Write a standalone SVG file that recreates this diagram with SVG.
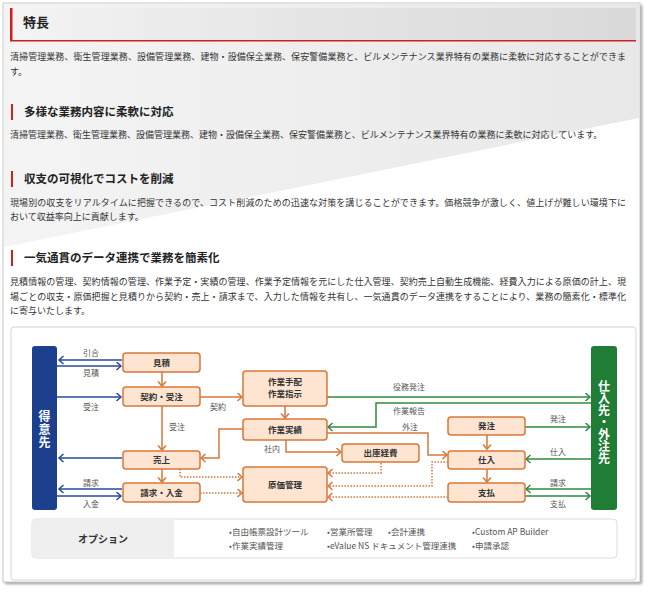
<svg xmlns="http://www.w3.org/2000/svg" width="650" height="592" viewBox="0 0 650 592">
<defs>
<linearGradient id="bgg" x1="0" y1="0" x2="1" y2="0">
<stop offset="0" stop-color="#f4f4f4"/><stop offset="1" stop-color="#e8e8e8"/>
</linearGradient>
<linearGradient id="hdg" x1="0" y1="0" x2="1" y2="0">
<stop offset="0" stop-color="#dcdcdc" stop-opacity="0"/><stop offset="1" stop-color="#dadada"/>
</linearGradient>
<filter id="sh" x="-5%" y="-5%" width="110%" height="110%"><feGaussianBlur stdDeviation="1.5"/></filter>
<marker id="mb" markerWidth="8" markerHeight="10" refX="5" refY="4.5" orient="auto" markerUnits="userSpaceOnUse"><path d="M0.5,0.5 L5,4.5 L0.5,8.5" fill="none" stroke="#274a9c" stroke-width="1.5"/></marker>
<marker id="mg" markerWidth="8" markerHeight="10" refX="5" refY="4.5" orient="auto" markerUnits="userSpaceOnUse"><path d="M0.5,0.5 L5,4.5 L0.5,8.5" fill="none" stroke="#2e8a3f" stroke-width="1.5"/></marker>
<marker id="mo" markerWidth="8" markerHeight="10" refX="5" refY="4.5" orient="auto" markerUnits="userSpaceOnUse"><path d="M0.5,0.5 L5,4.5 L0.5,8.5" fill="none" stroke="#d7773a" stroke-width="1.5"/></marker>
</defs>
<style>
text{font-family:"Noto Sans CJK JP","Noto Sans",sans-serif}
.h{font-size:11.5px;font-weight:bold;fill:#222}
.p{font-size:9px;fill:#333}
.bar{fill:#d21e1e}
.node rect{fill:#fde5d2;stroke:#d7773a;stroke-width:1.5}
.node text{font-size:8.5px;font-weight:bold;fill:#333;text-anchor:middle}
.lbl{font-size:8px;fill:#555;text-anchor:middle}
.vt{font-size:12px;font-weight:bold;fill:#fff;writing-mode:vertical-rl}
.cb{fill:none;stroke:#274a9c;stroke-width:1.5;marker-end:url(#mb)}
.cg{fill:none;stroke:#2e8a3f;stroke-width:1.5;marker-end:url(#mg)}
.co{fill:none;stroke:#d7773a;stroke-width:1.5;marker-end:url(#mo)}
.cd{fill:none;stroke:#d7773a;stroke-width:1.5;stroke-dasharray:1.5 1.5;marker-end:url(#mo)}
.opt{font-size:8.5px;fill:#555}
</style>
<rect width="650" height="592" fill="#ffffff"/>
<rect x="5" y="5" width="637" height="579" fill="#9a9a9a" filter="url(#sh)"/>
<rect x="3" y="3" width="637" height="579" fill="#ffffff" stroke="#c8c8c8" stroke-width="1"/>
<polygon points="4,4 639,4 639,118 4,247" fill="url(#bgg)"/>
<rect x="10" y="8" width="626" height="33" fill="url(#hdg)"/>

<g id="headings">
<rect class="bar" x="10" y="8" width="2.5" height="33"/>
<rect class="bar" x="10" y="40" width="626" height="1.5"/>
<text class="h" x="23" y="27" style="font-size:13px">特長</text>
<text class="p" x="10" y="60" textLength="616" lengthAdjust="spacing">清掃管理業務、衛生管理業務、設備管理業務、建物・設備保全業務、保安警備業務と、ビルメンテナンス業界特有の業務に柔軟に対応することができま</text>
<text class="p" x="10" y="75">す。</text>

<rect class="bar" x="11" y="104" width="2" height="16"/>
<text class="h" x="24" y="116">多様な業務内容に柔軟に対応</text>
<text class="p" x="10" y="138">清掃管理業務、衛生管理業務、設備管理業務、建物・設備保全業務、保安警備業務と、ビルメンテナンス業界特有の業務に柔軟に対応しています。</text>

<rect class="bar" x="11" y="171" width="2" height="16"/>
<text class="h" x="24" y="183">収支の可視化でコストを削減</text>
<text class="p" x="10" y="206" textLength="616" lengthAdjust="spacing">現場別の収支をリアルタイムに把握できるので、コスト削減のための迅速な対策を講じることができます。価格競争が激しく、値上げが難しい環境下に</text>
<text class="p" x="10" y="220">おいて収益率向上に貢献します。</text>

<rect class="bar" x="11" y="250" width="2" height="16"/>
<text class="h" x="24" y="262">一気通貫のデータ連携で業務を簡素化</text>
<text class="p" x="10" y="285" textLength="616" lengthAdjust="spacing">見積情報の管理、契約情報の管理、作業予定・実績の管理、作業予定情報を元にした仕入管理、契約売上自動生成機能、経費入力による原価の計上、現</text>
<text class="p" x="10" y="300" textLength="616" lengthAdjust="spacing">場ごとの収支・原価把握と見積りから契約・売上・請求まで、入力した情報を共有し、一気通貫のデータ連携をすることにより、業務の簡素化・標準化</text>
<text class="p" x="10" y="314">に寄与いたします。</text>
</g>

<rect x="11" y="327" width="625" height="253" rx="3" fill="#ffffff" stroke="#d4d4d4" stroke-width="1"/>

<g id="tokuisaki">
<rect x="32" y="346" width="25" height="164" rx="3" fill="#1c3f8e"/>
<text class="vt" x="44.5" y="410" style="letter-spacing:1px">得意先</text>
</g>
<g id="shiiresaki">
<rect x="591" y="346" width="26" height="164" rx="3" fill="#1f7d35"/>
<text class="vt" x="604" y="380">仕入先・外注先</text>
</g>

<g id="connectors">
<path class="cb" d="M122,360 H59"/>
<path class="cb" d="M57,366 H121"/>
<path class="cb" d="M57,397 H121"/>
<path class="cb" d="M122,458 H59"/>
<path class="cb" d="M122,489 H59"/>
<path class="cb" d="M57,496 H121"/>
<path class="co" d="M162,372 V386"/>
<path class="co" d="M200,397 H242"/>
<path class="co" d="M162,406 V450"/>
<path class="co" d="M285,406 V418"/>
<path class="co" d="M243,429 H219 V458 H201"/>
<path class="co" d="M286,440 V452 H341"/>
<path class="co" d="M162,469 V482"/>
<path class="co" d="M327,433 H428 V455 H447"/>
<path class="co" d="M487,435 V449"/>
<path class="co" d="M487,469 V482"/>
<path class="cd" d="M180,469 V477 H242"/>
<path class="cd" d="M200,493 H242"/>
<path class="cd" d="M381,463 V473 H328"/>
<path class="cd" d="M448,462 H432 V486 H328"/>
<path class="cd" d="M448,497 H328"/>
<path class="cg" d="M327,397 H590"/>
<path class="cg" d="M591,403 H376 V427 H328"/>
<path class="cg" d="M525,427 H590"/>
<path class="cg" d="M591,459 H526"/>
<path class="cg" d="M591,489 H526"/>
<path class="cg" d="M525,496 H590"/>
<text class="lbl" x="91" y="356">引合</text>
<text class="lbl" x="91" y="376">見積</text>
<text class="lbl" x="91" y="410">受注</text>
<text class="lbl" x="218" y="410">契約</text>
<text class="lbl" x="177" y="430">受注</text>
<text class="lbl" x="91" y="486">請求</text>
<text class="lbl" x="91" y="507">入金</text>
<text class="lbl" x="272" y="452">社内</text>
<text class="lbl" x="409" y="390">役務発注</text>
<text class="lbl" x="409" y="414">作業報告</text>
<text class="lbl" x="410" y="430">外注</text>
<text class="lbl" x="558" y="422">発注</text>
<text class="lbl" x="558" y="455">仕入</text>
<text class="lbl" x="558" y="486">請求</text>
<text class="lbl" x="558" y="507">支払</text>
</g>

<g id="mitsumori" class="node"><rect x="123" y="353" width="77" height="19" rx="3"/><text x="161.5" y="365.5">見積</text></g>
<g id="keiyaku" class="node"><rect x="123" y="387" width="77" height="19" rx="3"/><text x="161.5" y="399.5">契約・受注</text></g>
<g id="tehai" class="node"><rect x="243" y="371" width="84" height="35" rx="3"/><text x="285" y="385">作業手配</text><text x="285" y="397">作業指示</text></g>
<g id="jisseki" class="node"><rect x="243" y="419" width="84" height="21" rx="3"/><text x="285" y="432.5">作業実績</text></g>
<g id="uriage" class="node"><rect x="123" y="451" width="77" height="18" rx="3"/><text x="161.5" y="463">売上</text></g>
<g id="seikyu" class="node"><rect x="123" y="483" width="77" height="19" rx="3"/><text x="161.5" y="495.5">請求・入金</text></g>
<g id="genka" class="node"><rect x="243" y="467" width="84" height="35" rx="3"/><text x="285" y="487.5">原価管理</text></g>
<g id="shukko" class="node"><rect x="342" y="444" width="77" height="18" rx="3"/><text x="380.5" y="456">出庫経費</text></g>
<g id="hacchu" class="node"><rect x="448" y="417" width="77" height="18" rx="3"/><text x="486.5" y="429">発注</text></g>
<g id="shiire" class="node"><rect x="448" y="451" width="77" height="18" rx="3"/><text x="486.5" y="463">仕入</text></g>
<g id="shiharai" class="node"><rect x="448" y="483" width="77" height="19" rx="3"/><text x="486.5" y="495.5">支払</text></g>

<g id="options">
<rect x="32" y="519" width="585" height="39" rx="4" fill="#ffffff" stroke="#dcdcdc" stroke-width="1"/>
<path d="M36,519 H174 V558 H36 A4,4 0 0 1 32,554 V523 A4,4 0 0 1 36,519 Z" fill="#efefef"/>
<text x="103" y="543" style="font-size:10px;font-weight:bold;fill:#333;text-anchor:middle">オプション</text>
<text class="opt" x="229" y="535">•自由帳票設計ツール</text>
<text class="opt" x="327" y="535">•営業所管理</text>
<text class="opt" x="388" y="535">•会計連携</text>
<text class="opt" x="472" y="535">•Custom AP Builder</text>
<text class="opt" x="229" y="549">•作業実績管理</text>
<text class="opt" x="327" y="549">•eValue NS ドキュメント管理連携</text>
<text class="opt" x="472" y="549">•申請承認</text>
</g>
</svg>
